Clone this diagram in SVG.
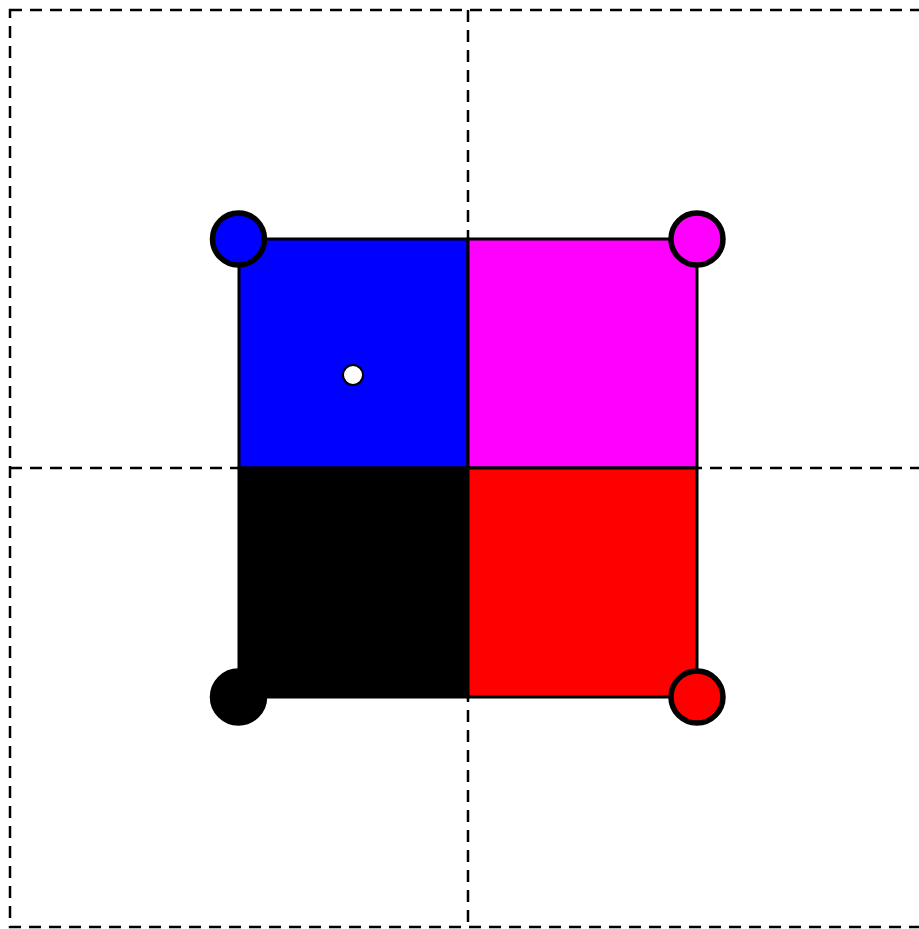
<svg xmlns="http://www.w3.org/2000/svg" width="919" height="929" viewBox="0 0 919 929">
<style>
.dash{fill:none;stroke:#000;stroke-width:2.5;stroke-dasharray:12 8}
.sq{stroke:#000;stroke-width:3}
.corner{stroke:#000;stroke-width:5.5}
</style>
<rect width="919" height="929" fill="#fff"/>
<g id="grid">
<rect class="dash" x="10" y="10" width="917" height="917"/>
<line class="dash" x1="468" y1="10" x2="468" y2="927"/>
<line class="dash" x1="10" y1="468" x2="927" y2="468"/>
</g>
<g id="q-blue"><rect class="sq" x="239" y="239" width="229" height="229" fill="#00f"/></g>
<g id="q-magenta"><rect class="sq" x="468" y="239" width="229" height="229" fill="#f0f"/></g>
<g id="q-black"><rect class="sq" x="239" y="468" width="229" height="229" fill="#000"/></g>
<g id="q-red"><rect class="sq" x="468" y="468" width="229" height="229" fill="#f00"/></g>
<g id="c-blue"><circle class="corner" cx="238.5" cy="239" r="26" fill="#00f"/></g>
<g id="c-magenta"><circle class="corner" cx="697" cy="239" r="26" fill="#f0f"/></g>
<g id="c-black"><circle class="corner" cx="238.5" cy="697" r="26" fill="#000"/></g>
<g id="c-red"><circle class="corner" cx="697" cy="697" r="26" fill="#f00"/></g>
<g id="dot"><circle cx="353" cy="375" r="10" fill="#fff" stroke="#000" stroke-width="2"/></g>
</svg>
